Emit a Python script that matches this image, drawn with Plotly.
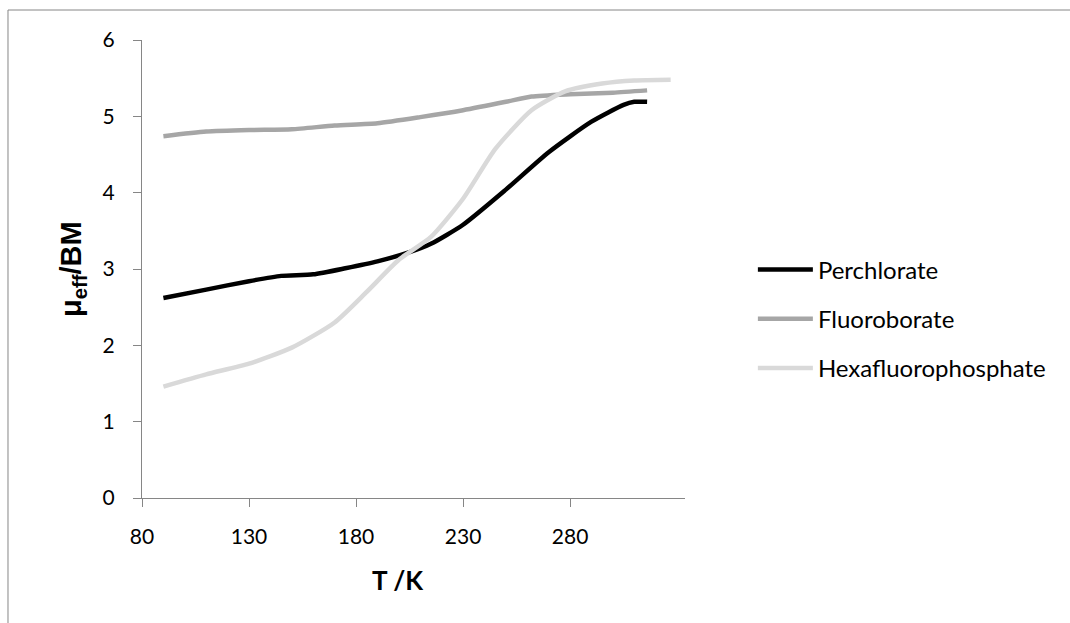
import plotly.graph_objects as go

# ---- data ----
perc_T = [90, 110, 130, 145, 160, 175, 190, 205, 215, 230, 250, 270, 290, 305, 310, 316]
perc_mu = [2.62, 2.73, 2.84, 2.91, 2.93, 3.01, 3.10, 3.22, 3.33, 3.58, 4.04, 4.53, 4.93, 5.15, 5.19, 5.19]

fluo_T = [90, 110, 130, 150, 170, 190, 210, 230, 250, 262, 280, 300, 316]
fluo_mu = [4.74, 4.80, 4.82, 4.83, 4.88, 4.91, 4.99, 5.08, 5.19, 5.26, 5.29, 5.31, 5.34]

hexa_T = [90, 110, 130, 150, 170, 185, 200, 215, 230, 245, 262, 278, 295, 310, 327]
hexa_mu = [1.46, 1.62, 1.76, 1.97, 2.30, 2.70, 3.12, 3.42, 3.92, 4.57, 5.08, 5.33, 5.43, 5.47, 5.48]

series_names = ["Perchlorate", "Fluoroborate", "Hexafluorophosphate"]
series_colors = ["#000000", "#A6A6A6", "#D9D9D9"]

x_ticks = [80, 130, 180, 230, 280]
y_ticks = [0, 1, 2, 3, 4, 5, 6]

x_title = "<b>T /K</b>"
y_title = "<b>μ<sub>eff</sub>/BM</b>"

FONT = "Lato"
AXIS_COLOR = "#868686"

fig = go.Figure()
for name, xs, ys, col in zip(series_names, [perc_T, fluo_T, hexa_T],
                             [perc_mu, fluo_mu, hexa_mu], series_colors):
    fig.add_trace(go.Scatter(
        x=xs, y=ys, name=name, mode="lines", legendgroup=name,
        line=dict(color=col, width=4.5, shape="spline", smoothing=0.6),
    ))

fig.update_layout(
    width=1070, height=623,
    margin=dict(l=142, r=385, t=40, b=125),
    paper_bgcolor="white", plot_bgcolor="white",
    font=dict(family=FONT, size=21, color="black"),
    showlegend=True,
    legend=dict(
        x=1.125, y=0.391, xanchor="left", yanchor="middle",
        font=dict(family=FONT, size=24, color="black"),
        itemwidth=55, tracegroupgap=15,
        bgcolor="rgba(0,0,0,0)",
    ),
    xaxis=dict(
        range=[80, 333.7], tickvals=x_ticks, ticktext=[str(v) for v in x_ticks],
        showgrid=False, zeroline=False,
        showline=True, linecolor=AXIS_COLOR, linewidth=1,
        ticks="outside", ticklen=8, tickcolor=AXIS_COLOR, tickwidth=1,
        ticklabelstandoff=12,
    ),
    yaxis=dict(
        range=[0, 6], tickvals=y_ticks, ticktext=[str(v) for v in y_ticks],
        showgrid=False, zeroline=False,
        showline=True, linecolor=AXIS_COLOR, linewidth=1,
        ticks="outside", ticklen=8, tickcolor=AXIS_COLOR, tickwidth=1,
        ticklabelstandoff=14,
    ),
    annotations=[
        dict(text=x_title, xref="paper", yref="paper", x=0.4715, y=-0.178,
             xanchor="center", yanchor="middle", showarrow=False,
             font=dict(family=FONT, size=26, color="black")),
        dict(text=y_title, xref="paper", yref="paper", x=-0.127, y=0.5,
             xanchor="center", yanchor="middle", showarrow=False, textangle=-90,
             font=dict(family="Liberation Sans", size=29, color="black")),
    ],
)

# outer chart-area border (left and top edges visible)
fig.add_shape(type="line", xref="paper", yref="paper",
              x0=-0.2468, x1=-0.2468, y0=1.0655, y1=-0.3, line=dict(color=AXIS_COLOR, width=1))
fig.add_shape(type="line", xref="paper", yref="paper",
              x0=-0.2468, x1=1.75, y0=1.0655, y1=1.0655, line=dict(color=AXIS_COLOR, width=1))

fig.write_html("out.html")
